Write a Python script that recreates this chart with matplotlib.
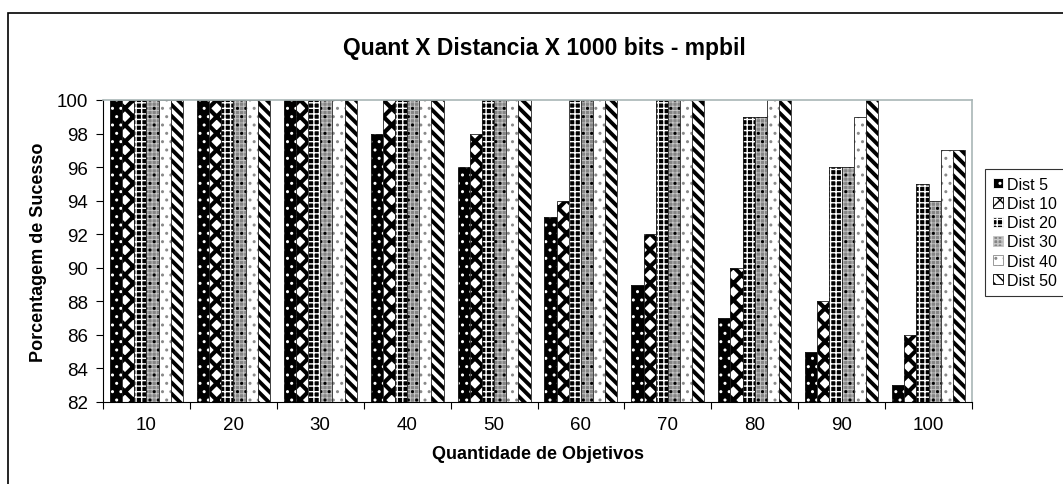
import numpy as np
import matplotlib
matplotlib.use("Agg")
import matplotlib.pyplot as plt
from matplotlib.patches import Patch, Rectangle

plt.rcParams["font.family"] = ["Liberation Sans", "DejaVu Sans"]

# number of objectives on the x axis
quantidades = ["10", "20", "30", "40", "50", "60", "70", "80", "90", "100"]

# success percentage per distance
dist_5 = [100, 100, 100, 98, 96, 93, 89, 87, 85, 83]
dist_10 = [100, 100, 100, 100, 98, 94, 92, 90, 88, 86]
dist_20 = [100, 100, 100, 100, 100, 100, 100, 99, 96, 95]
dist_30 = [100, 100, 100, 100, 100, 100, 100, 99, 96, 94]
dist_40 = [100, 100, 100, 100, 100, 100, 100, 100, 99, 97]
dist_50 = [100, 100, 100, 100, 100, 100, 100, 100, 100, 97]

series_names = ["Dist 5", "Dist 10", "Dist 20", "Dist 30", "Dist 40", "Dist 50"]
series = [dist_5, dist_10, dist_20, dist_30, dist_40, dist_50]

# fill layers for each series: (face, hatch, hatch colour, hatch linewidth)
fills = [
    [("black", "..", "white", 1.0)],
    [("white", "xx", "black", 3.0)],
    [("black", "+++", "white", 1.0)],
    [("#858585", "++++", "#c8c8c8", 0.6), ("none", "..", "black", 1.0)],
    [("white", "..", "#8a8a8a", 1.0)],
    [("white", "\\\\\\", "black", 2.8)],
]


def hatched_bars(ax, x, heights, width, layers, bottom):
    for face, hatch, hcolor, hlw in layers:
        with plt.rc_context({"hatch.linewidth": hlw}):
            bars = ax.bar(x, np.array(heights) - bottom, width, bottom=bottom,
                          color=face, edgecolor=hcolor, linewidth=0,
                          hatch=hatch)
        for b in bars:
            if hasattr(b, "set_hatch_linewidth"):
                b.set_hatch_linewidth(hlw)
    ax.bar(x, np.array(heights) - bottom, width, bottom=bottom,
           fill=False, edgecolor="#222222", linewidth=0.6)


fig = plt.figure(figsize=(10.63, 4.85), dpi=100)
ax = fig.add_axes([103 / 1063, 1 - 403 / 485, 869 / 1063, 302 / 485])

# chart area frame
fig.patches.append(Rectangle((8 / 1063, -0.1), 1.2, 1 - 14 / 485 + 0.1,
                             transform=fig.transFigure, fill=False,
                             edgecolor="black", linewidth=1.2))

ymin = 82
n = len(series)
bar_w = 0.14
xpos = np.arange(len(quantidades))
for i, (vals, layers) in enumerate(zip(series, fills)):
    offs = (i - (n - 1) / 2) * bar_w
    hatched_bars(ax, xpos + offs, vals, bar_w, layers, ymin)

ax.set_xlim(-0.5, len(quantidades) - 0.5)
ax.set_ylim(ymin, 100)
ax.set_yticks(np.arange(82, 101, 2))
ax.set_xticks(xpos)
ax.set_xticklabels(quantidades)
ax.set_xticks(np.arange(-0.5, len(quantidades)), minor=True)
ax.tick_params(axis="x", which="major", length=0, labelsize=13.5, pad=10)
ax.tick_params(axis="x", which="minor", length=5, width=0.8, direction="out")
ax.tick_params(axis="y", length=5, width=0.8, direction="out",
               labelsize=13.5, pad=6)

for side in ("top", "right"):
    ax.spines[side].set_color("#a9b6b6")
    ax.spines[side].set_linewidth(1.2)
for side in ("left", "bottom"):
    ax.spines[side].set_color("black")
    ax.spines[side].set_linewidth(0.8)

ax.set_xlabel("Quantidade de Objetivos", fontsize=13, fontweight="bold",
              labelpad=9)
ax.set_ylabel("Porcentagem de Sucesso", fontsize=13, fontweight="bold",
              labelpad=7)
fig.text(544 / 1063, 1 - 48 / 485, "Quant X Distancia X 1000 bits - mpbil",
         ha="center", va="center", fontsize=16.5, fontweight="bold")

handles = []
for name, layers in zip(series_names, fills):
    face, hatch, hcolor, hlw = layers[0]
    handles.append(Patch(facecolor=face, edgecolor=hcolor, hatch=hatch,
                         linewidth=0.6, label=name))
leg = fig.legend(handles=handles, loc="upper left",
                 bbox_to_anchor=(985 / 1063, 1 - 170 / 485),
                 frameon=True, fancybox=False, edgecolor="black",
                 fontsize=11.5, handlelength=0.6, handleheight=0.6,
                 handletextpad=0.3, labelspacing=0.26, borderpad=0.5,
                 borderaxespad=0)
leg.get_frame().set_linewidth(0.8)

fig.savefig("out.png", dpi=100)
